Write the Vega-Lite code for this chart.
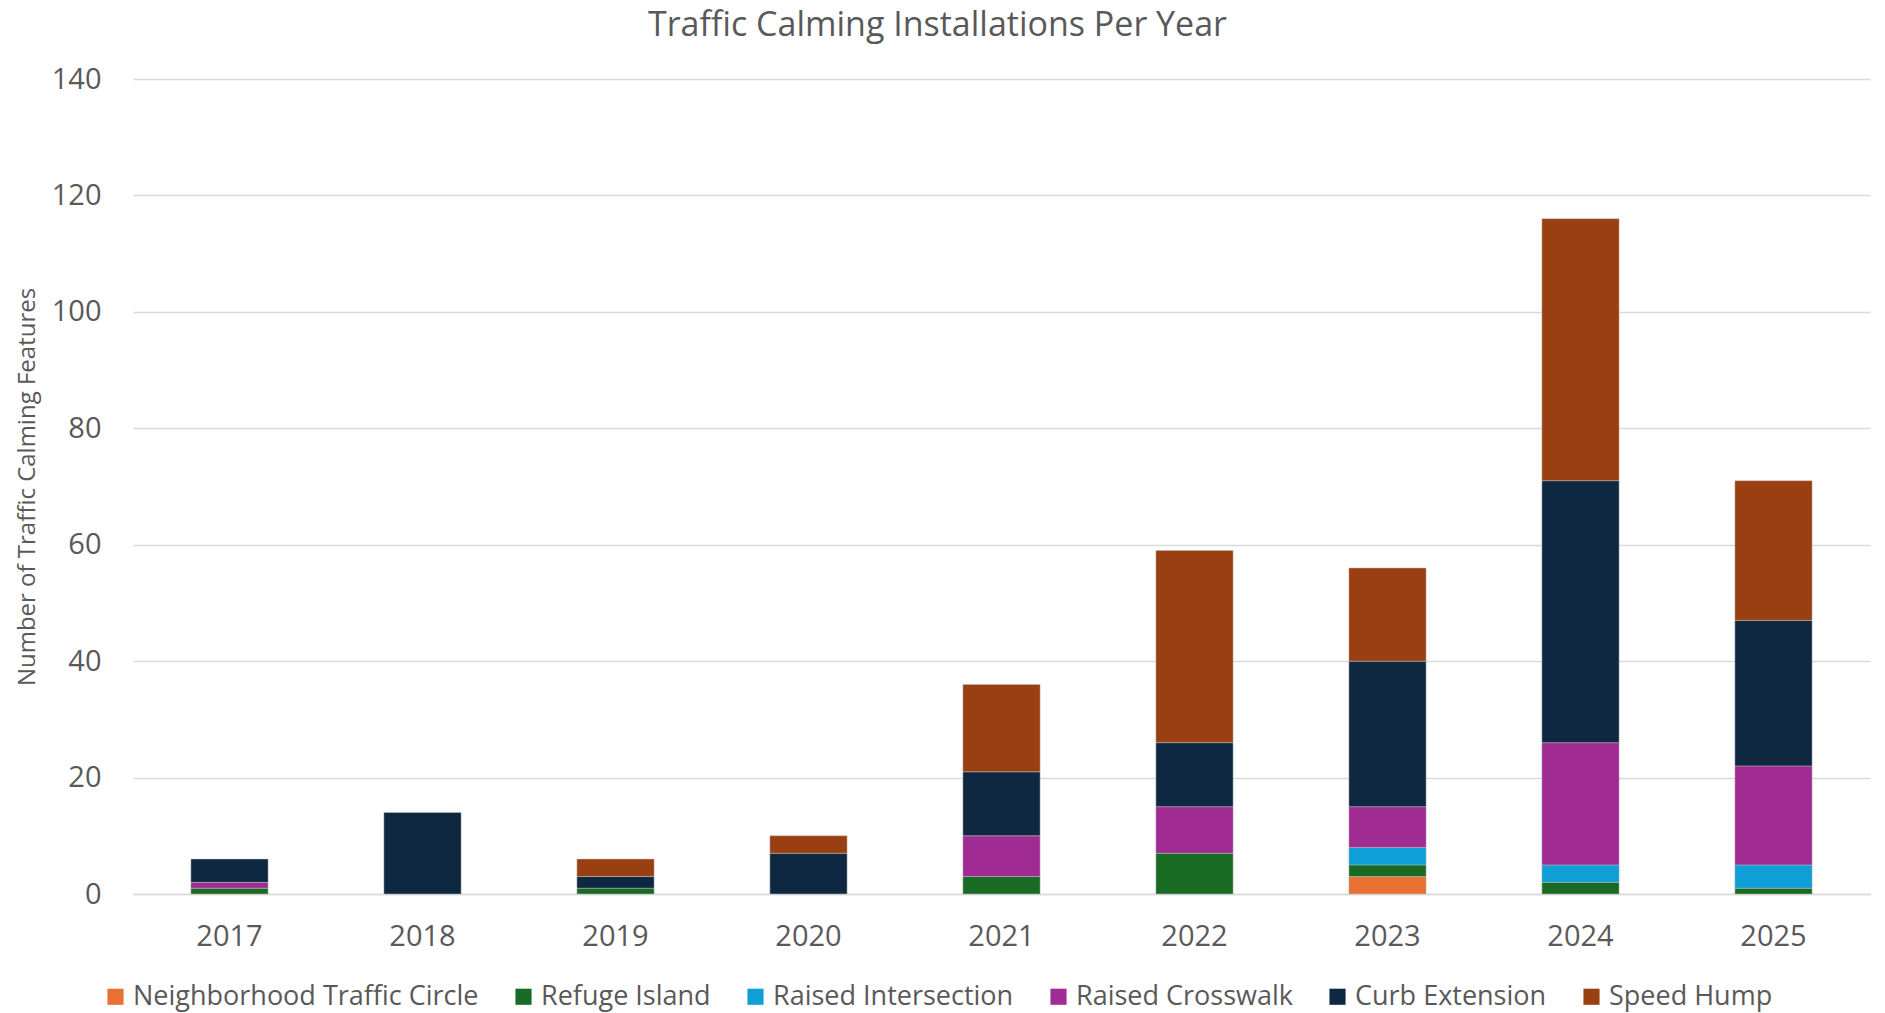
{
  "$schema": "https://vega.github.io/schema/vega-lite/v6.json",
  "autosize": {"type": "none"},
  "padding": {"left": 133, "top": 79, "right": 15, "bottom": 119},
  "width": 1737,
  "height": 815,
  "background": "white",
  "config": {"view": {"stroke": null}},
  "title": {"text": "Traffic Calming Installations Per Year", "fontSize": 34, "font": "Open Sans", "fontWeight": "normal", "color": "#595959", "offset": 22, "anchor": "middle", "dx": -64},
  "data": {"values": [
    {"year": "2017", "type": "Refuge Island", "k": 2, "n": 1},
    {"year": "2017", "type": "Raised Crosswalk", "k": 4, "n": 1},
    {"year": "2017", "type": "Curb Extension", "k": 5, "n": 4},
    {"year": "2018", "type": "Curb Extension", "k": 5, "n": 14},
    {"year": "2019", "type": "Refuge Island", "k": 2, "n": 1},
    {"year": "2019", "type": "Curb Extension", "k": 5, "n": 2},
    {"year": "2019", "type": "Speed Hump", "k": 6, "n": 3},
    {"year": "2020", "type": "Curb Extension", "k": 5, "n": 7},
    {"year": "2020", "type": "Speed Hump", "k": 6, "n": 3},
    {"year": "2021", "type": "Refuge Island", "k": 2, "n": 3},
    {"year": "2021", "type": "Raised Crosswalk", "k": 4, "n": 7},
    {"year": "2021", "type": "Curb Extension", "k": 5, "n": 11},
    {"year": "2021", "type": "Speed Hump", "k": 6, "n": 15},
    {"year": "2022", "type": "Refuge Island", "k": 2, "n": 7},
    {"year": "2022", "type": "Raised Crosswalk", "k": 4, "n": 8},
    {"year": "2022", "type": "Curb Extension", "k": 5, "n": 11},
    {"year": "2022", "type": "Speed Hump", "k": 6, "n": 33},
    {"year": "2023", "type": "Neighborhood Traffic Circle", "k": 1, "n": 3},
    {"year": "2023", "type": "Refuge Island", "k": 2, "n": 2},
    {"year": "2023", "type": "Raised Intersection", "k": 3, "n": 3},
    {"year": "2023", "type": "Raised Crosswalk", "k": 4, "n": 7},
    {"year": "2023", "type": "Curb Extension", "k": 5, "n": 25},
    {"year": "2023", "type": "Speed Hump", "k": 6, "n": 16},
    {"year": "2024", "type": "Refuge Island", "k": 2, "n": 2},
    {"year": "2024", "type": "Raised Intersection", "k": 3, "n": 3},
    {"year": "2024", "type": "Raised Crosswalk", "k": 4, "n": 21},
    {"year": "2024", "type": "Curb Extension", "k": 5, "n": 45},
    {"year": "2024", "type": "Speed Hump", "k": 6, "n": 45},
    {"year": "2025", "type": "Refuge Island", "k": 2, "n": 1},
    {"year": "2025", "type": "Raised Intersection", "k": 3, "n": 4},
    {"year": "2025", "type": "Raised Crosswalk", "k": 4, "n": 17},
    {"year": "2025", "type": "Curb Extension", "k": 5, "n": 25},
    {"year": "2025", "type": "Speed Hump", "k": 6, "n": 24}
  ]},
  "mark": {"type": "bar", "stroke": "#bfbfbf", "strokeWidth": 0.8, "strokeOpacity": 0.6},
  "encoding": {
    "x": {"field": "year", "type": "nominal", "scale": {"paddingInner": 0.6, "paddingOuter": 0.3},
      "axis": {"title": null, "labelAngle": 0, "labelFontSize": 29, "labelFont": "Open Sans", "labelColor": "#595959", "labelPadding": 28, "ticks": false, "domainColor": "#d9d9d9", "domainWidth": 1.5, "grid": false}},
    "y": {"field": "n", "type": "quantitative", "aggregate": "sum", "stack": "zero", "scale": {"domain": [0, 140], "nice": false},
      "axis": {"title": "Number of Traffic Calming Features", "titleFontSize": 24, "titleFont": "Open Sans", "titleFontWeight": "normal", "titleColor": "#595959", "titlePadding": 12, "values": [0, 20, 40, 60, 80, 100, 120, 140], "labelFontSize": 29, "labelFont": "Open Sans", "labelColor": "#595959", "labelPadding": 32, "ticks": false, "domain": false, "gridColor": "#d9d9d9", "gridWidth": 1.5}},
    "color": {"field": "type", "type": "nominal",
      "scale": {"domain": ["Neighborhood Traffic Circle", "Refuge Island", "Raised Intersection", "Raised Crosswalk", "Curb Extension", "Speed Hump"],
        "range": ["#E97132", "#196B24", "#0F9ED5", "#A02B93", "#0E2841", "#9A3F11"]},
      "legend": {"title": null, "orient": "none", "direction": "horizontal", "legendX": -31, "legendY": 904, "labelFontSize": 27, "labelFont": "Open Sans", "labelColor": "#595959", "symbolType": "square", "symbolSize": 260, "symbolStrokeWidth": 0, "columnPadding": 31, "labelOffset": 4, "labelLimit": 600}},
    "order": {"field": "k", "type": "quantitative", "sort": "ascending"}
  }
}
